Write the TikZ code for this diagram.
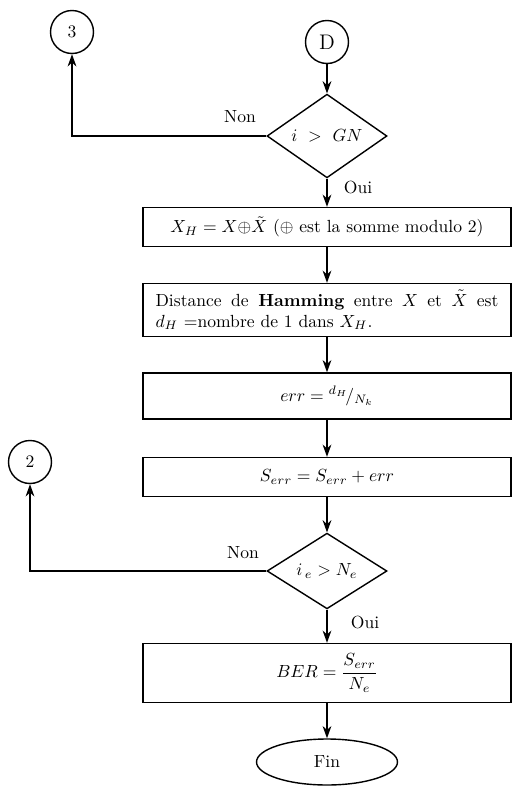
\documentclass[tikz,border=0pt]{standalone}
\usepackage{amsmath}
\usetikzlibrary{shapes.geometric,arrows.meta}
\begin{document}
\begin{tikzpicture}[
    x=0.02cm, y=-0.02cm,
    process/.style={rectangle, draw, thick, minimum width=7.36cm, inner sep=3pt},
    decision/.style={diamond, draw, thick, minimum width=2.4cm, minimum height=1.48cm, inner sep=0pt},
    connector/.style={circle, draw, thick, minimum size=0.86cm, inner sep=0pt},
    terminal/.style={ellipse, draw, thick, minimum width=2.82cm, minimum height=0.92cm},
    arrow/.style={-{Stealth[length=7pt,width=5pt]}, thick}
]
    \useasboundingbox (0,0) rectangle (519,799);
    \node[connector] (go3) at (72,32) {3};
    \node[connector, font=\large] (start) at (327,42) {D};
    \node[decision] (testgn) at (327,136) {$i\ >\ GN$};
    \node (non1) at (240,117) {Non};
    \node (oui1) at (358,187) {Oui};
    \node[process, minimum height=0.78cm] (xor) at (327,227) {$X_H = X{\oplus}\tilde{X}$ (${\oplus}$ est la somme modulo 2)};
    \node[process, minimum height=1.06cm, text width=6.86cm, align=justify] (hamming) at (327,310) {Distance de \textbf{Hamming} entre $X$ et $\tilde{X}$ est\linebreak $d_H$ =nombre de 1 dans $X_H$.};
    \node[process, minimum height=0.92cm] (err) at (327,396) {$err = {}^{d_H}\!/_{N_k}$};
    \node[process, minimum height=0.78cm] (serr) at (327,477) {$S_{err} = S_{err} + err$};
    \node[decision] (testne) at (327,571) {$i_{\,e} > N_e$};
    \node[connector] (go2) at (30,462) {2};
    \node (non2) at (243,553) {Non};
    \node (oui2) at (365,622) {Oui};
    \node[process, minimum height=1.18cm] (ber) at (327,673) {$BER = \dfrac{S_{err}}{N_e}$};
    \node[terminal] (fin) at (327,762) {Fin};

    \draw[arrow] (start) -- (testgn);
    \draw[arrow] (testgn.west) -| (go3);
    \draw[arrow] (testgn) -- (xor);
    \draw[arrow] (xor) -- (hamming);
    \draw[arrow] (hamming) -- (err);
    \draw[arrow] (err) -- (serr);
    \draw[arrow] (serr) -- (testne);
    \draw[arrow] (testne.west) -| (go2);
    \draw[arrow] (testne) -- (ber);
    \draw[arrow] (ber) -- (fin);
\end{tikzpicture}
\end{document}
